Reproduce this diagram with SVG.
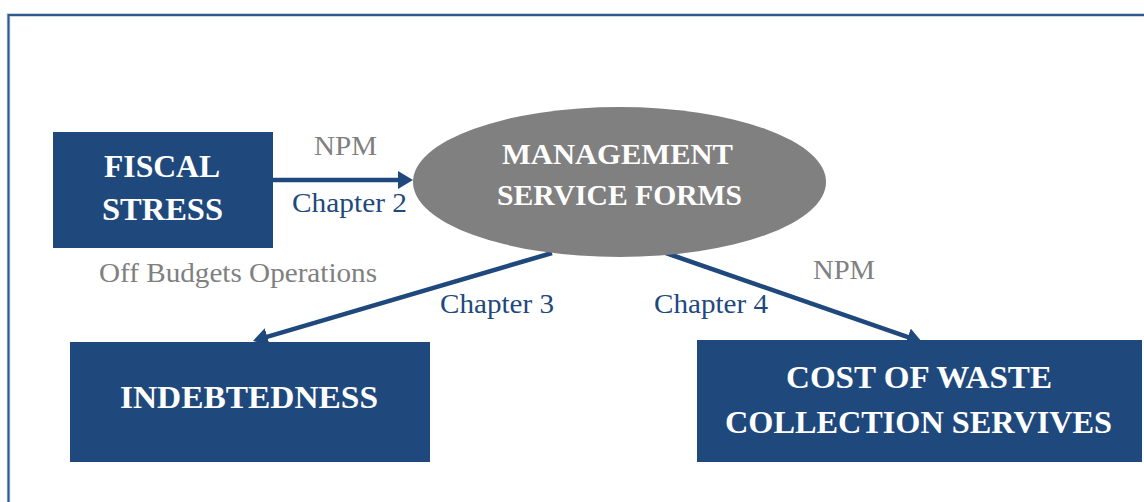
<svg xmlns="http://www.w3.org/2000/svg" width="1144" height="502" viewBox="0 0 1144 502">
<style>
.box{fill:#1F497D}
.bt{font-family:"Liberation Serif",serif;font-weight:bold;fill:#FFFFFF;text-anchor:middle}
.gl{font-family:"Liberation Serif",serif;fill:#808080;font-size:27px}
.bl{font-family:"Liberation Serif",serif;fill:#1F497D;font-size:27px}
.conn{stroke:#1F497D;stroke-width:4.5;fill:none;marker-end:url(#ah)}
</style>
<defs>
<marker id="ah" markerUnits="userSpaceOnUse" markerWidth="16" markerHeight="18" refX="4" refY="9" orient="auto" viewBox="0 0 16 18">
<path d="M0,0 L15,9 L0,18 z" fill="#1F497D"/>
</marker>
</defs>
<rect x="0" y="0" width="1144" height="502" fill="#FFFFFF"/>
<rect x="8.5" y="15" width="1200" height="600" fill="none" stroke="#BFC9D9" stroke-width="3.5"/>
<rect x="8.5" y="15" width="1200" height="600" fill="none" stroke="#2E5A92" stroke-width="2"/>
<g id="connectors">
<line class="conn" x1="273" y1="180" x2="402" y2="180"/>
<line class="conn" x1="552" y1="253" x2="263.5" y2="337.9"/>
<line class="conn" x1="666" y1="253" x2="911.6" y2="338.4"/>
</g>
<g id="labels">
<text class="gl" x="314" y="155" textLength="63" lengthAdjust="spacingAndGlyphs">NPM</text>
<text class="bl" x="292" y="212" textLength="115" lengthAdjust="spacingAndGlyphs">Chapter 2</text>
<text class="gl" x="99" y="282" textLength="278" lengthAdjust="spacingAndGlyphs">Off Budgets Operations</text>
<text class="bl" x="440" y="313" textLength="114" lengthAdjust="spacingAndGlyphs">Chapter 3</text>
<text class="bl" x="654" y="313" textLength="114" lengthAdjust="spacingAndGlyphs">Chapter 4</text>
<text class="gl" x="813" y="279" textLength="62" lengthAdjust="spacingAndGlyphs">NPM</text>
</g>
<g id="fiscal-stress">
<rect class="box" x="53" y="132" width="220" height="116"/>
<text class="bt" x="162" y="177" font-size="31" textLength="116" lengthAdjust="spacingAndGlyphs">FISCAL</text>
<text class="bt" x="162.5" y="220" font-size="31" textLength="121" lengthAdjust="spacingAndGlyphs">STRESS</text>
</g>
<g id="management-service-forms">
<ellipse cx="619.5" cy="182" rx="206.5" ry="75" fill="#808080"/>
<text class="bt" x="617.5" y="164" font-size="29" textLength="231" lengthAdjust="spacingAndGlyphs">MANAGEMENT</text>
<text class="bt" x="619.5" y="205" font-size="29" textLength="245" lengthAdjust="spacingAndGlyphs">SERVICE FORMS</text>
</g>
<g id="indebtedness">
<rect class="box" x="70" y="342" width="360" height="120"/>
<text class="bt" x="249" y="408" font-size="31" textLength="258" lengthAdjust="spacingAndGlyphs">INDEBTEDNESS</text>
</g>
<g id="cost-of-waste">
<rect class="box" x="697" y="340" width="445" height="122"/>
<text class="bt" x="919" y="388" font-size="31" textLength="266" lengthAdjust="spacingAndGlyphs">COST OF WASTE</text>
<text class="bt" x="918.5" y="433" font-size="31" textLength="387" lengthAdjust="spacingAndGlyphs">COLLECTION SERVIVES</text>
</g>
</svg>
